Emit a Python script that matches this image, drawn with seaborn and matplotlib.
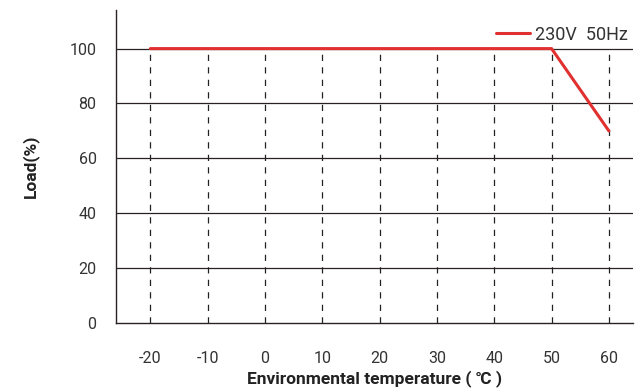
import matplotlib
matplotlib.use('Agg')
import matplotlib.pyplot as plt
import seaborn as sns
import pandas as pd

# derating curve data
temperature = [-20, 50, 60]
load = [100, 100, 70]
x_ticks = [-20, -10, 0, 10, 20, 30, 40, 50, 60]
y_ticks = [0, 20, 40, 60, 80, 100]
series_name = '230V  50Hz'

sns.set_style('white')
plt.rcParams['font.family'] = ['Roboto', 'DejaVu Sans']
plt.rcParams['axes.unicode_minus'] = False

df = pd.DataFrame({'temp': temperature, 'load': load})

fig = plt.figure(figsize=(6.43, 3.92), dpi=100)
ax = fig.add_axes([0.1804, 0.176, 0.804, 0.798])

# horizontal solid grid lines
for y in y_ticks[1:]:
    ax.axhline(y, color='#2a2222', lw=0.9, zorder=1)
# vertical dashed lines
for x in x_ticks:
    ax.plot([x, x], [0, 100], color='#222222', lw=0.9, ls=(0, (5, 5)), zorder=1)

sns.lineplot(data=df, x='temp', y='load', color='#e03030', lw=2.2,
             label=series_name, ax=ax, zorder=3)

ax.set_xlim(-26, 64.2)
ax.set_ylim(0, 114)
ax.set_xticks(x_ticks)
ax.set_yticks(y_ticks)
ax.tick_params(length=0, labelsize=11.5, labelcolor='#333333')
ax.tick_params(axis='x', pad=20)
ax.tick_params(axis='y', pad=14)
for s in ['top', 'right']:
    ax.spines[s].set_visible(False)
for s in ['left', 'bottom']:
    ax.spines[s].set_color('#2a2222')
    ax.spines[s].set_linewidth(1.0)

ax.set_xlabel('Environmental temperature ( ℃ )', fontsize=12.5, fontweight='bold',
              color='#222222')
ax.xaxis.set_label_coords(0.5, -0.152)
ax.set_ylabel('Load(%)', fontsize=12.5, fontweight='bold', color='#222222')
ax.yaxis.set_label_coords(-0.15, 0.5)

leg = ax.legend(loc='upper right', bbox_to_anchor=(1.012, 0.985), frameon=False,
                fontsize=13, handlelength=1.9, handletextpad=0.3,
                borderaxespad=0.2)
for t in leg.get_texts():
    t.set_color('#333333')

fig.savefig('out.png', dpi=100)
